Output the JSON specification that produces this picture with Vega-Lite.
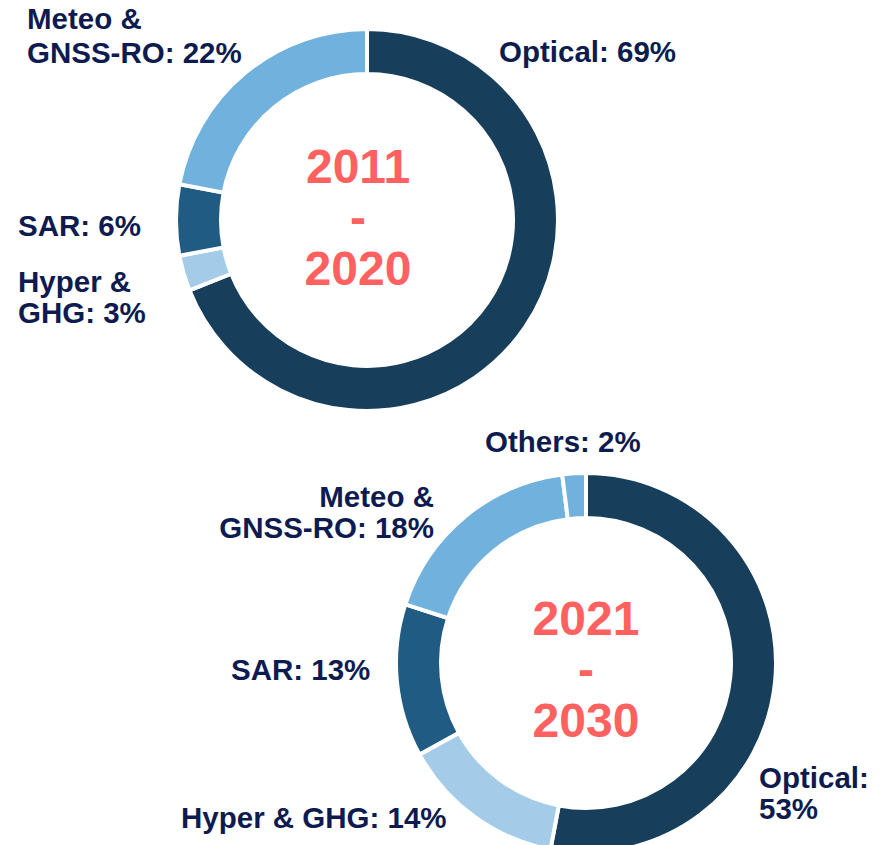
{
  "$schema": "https://vega.github.io/schema/vega-lite/v6.json",
  "width": 896,
  "height": 845,
  "padding": 0,
  "autosize": {"type": "none"},
  "background": "white",
  "config": {"view": {"stroke": null}},
  "data": {
    "values": [
      {"period": "2011 - 2020", "segment": "Optical", "share": 69, "order": 1, "label": "Optical: 69%"},
      {"period": "2011 - 2020", "segment": "Hyper & GHG", "share": 3, "order": 2, "label": "Hyper &\nGHG: 3%"},
      {"period": "2011 - 2020", "segment": "SAR", "share": 6, "order": 3, "label": "SAR: 6%"},
      {"period": "2011 - 2020", "segment": "Meteo & GNSS-RO", "share": 22, "order": 4, "label": "Meteo &\nGNSS-RO: 22%"},
      {"period": "2021 - 2030", "segment": "Optical", "share": 53, "order": 1, "label": "Optical:\n53%"},
      {"period": "2021 - 2030", "segment": "Hyper & GHG", "share": 14, "order": 2, "label": "Hyper & GHG: 14%"},
      {"period": "2021 - 2030", "segment": "SAR", "share": 13, "order": 3, "label": "SAR: 13%"},
      {"period": "2021 - 2030", "segment": "Meteo & GNSS-RO", "share": 18, "order": 4, "label": "Meteo &\nGNSS-RO: 18%"},
      {"period": "2021 - 2030", "segment": "Others", "share": 2, "order": 5, "label": "Others: 2%"}
    ]
  },
  "layer": [
    {
      "transform": [{"filter": "datum.period == '2011 - 2020'"}],
      "mark": {"type": "arc", "innerRadius": 146, "outerRadius": 191, "stroke": "white", "strokeWidth": 4},
      "encoding": {
        "x": {"datum": 367, "type": "quantitative", "scale": {"domain": [0, 896], "nice": false, "zero": false}, "axis": null},
        "y": {"datum": 220, "type": "quantitative", "scale": {"domain": [0, 845], "nice": false, "zero": false, "reverse": true}, "axis": null},
        "theta": {"field": "share", "type": "quantitative", "stack": true},
        "order": {"field": "order", "type": "quantitative"},
        "color": {"field": "segment", "type": "nominal", "legend": null,
          "scale": {"domain": ["Optical", "Hyper & GHG", "SAR", "Meteo & GNSS-RO", "Others"],
                    "range": ["#173e5a", "#a4cce8", "#1f5b83", "#70b1dd", "#70b1dd"]}}
      }
    },
    {
      "transform": [{"filter": "datum.period == '2021 - 2030'"}],
      "mark": {"type": "arc", "innerRadius": 145, "outerRadius": 190, "stroke": "white", "strokeWidth": 4},
      "encoding": {
        "x": {"datum": 586, "type": "quantitative", "scale": {"domain": [0, 896], "nice": false, "zero": false}, "axis": null},
        "y": {"datum": 663, "type": "quantitative", "scale": {"domain": [0, 845], "nice": false, "zero": false, "reverse": true}, "axis": null},
        "theta": {"field": "share", "type": "quantitative", "stack": true},
        "order": {"field": "order", "type": "quantitative"},
        "color": {"field": "segment", "type": "nominal", "legend": null}
      }
    },
    {
      "transform": [{"filter": "datum.period == '2011 - 2020' && datum.order == 1"}],
      "mark": {"type": "text", "font": "Liberation Sans", "fontWeight": "bold", "fontSize": 48, "color": "#ff6161", "align": "center", "baseline": "alphabetic", "lineBreak": " ", "lineHeight": 51},
      "encoding": {
        "x": {"datum": 358, "type": "quantitative", "scale": {"domain": [0, 896], "nice": false, "zero": false}, "axis": null},
        "y": {"datum": 183, "type": "quantitative", "scale": {"domain": [0, 845], "nice": false, "zero": false, "reverse": true}, "axis": null},
        "text": {"field": "period", "type": "nominal"}
      }
    },
    {
      "transform": [{"filter": "datum.period == '2021 - 2030' && datum.order == 1"}],
      "mark": {"type": "text", "font": "Liberation Sans", "fontWeight": "bold", "fontSize": 48, "color": "#ff6161", "align": "center", "baseline": "alphabetic", "lineBreak": " ", "lineHeight": 51},
      "encoding": {
        "x": {"datum": 586, "type": "quantitative", "scale": {"domain": [0, 896], "nice": false, "zero": false}, "axis": null},
        "y": {"datum": 635, "type": "quantitative", "scale": {"domain": [0, 845], "nice": false, "zero": false, "reverse": true}, "axis": null},
        "text": {"field": "period", "type": "nominal"}
      }
    },
    {
      "transform": [{"filter": "datum.period == '2011 - 2020' && datum.segment == 'Optical'"}],
      "mark": {"type": "text", "font": "Liberation Sans", "fontWeight": "bold", "fontSize": 29.5, "color": "#0e1b50", "align": "left", "baseline": "alphabetic", "lineBreak": "\n", "lineHeight": 34},
      "encoding": {
        "x": {"datum": 499, "type": "quantitative", "scale": {"domain": [0, 896], "nice": false, "zero": false}, "axis": null},
        "y": {"datum": 62, "type": "quantitative", "scale": {"domain": [0, 845], "nice": false, "zero": false, "reverse": true}, "axis": null},
        "text": {"field": "label", "type": "nominal"}
      }
    },
    {
      "transform": [{"filter": "datum.period == '2011 - 2020' && datum.segment == 'Meteo & GNSS-RO'"}],
      "mark": {"type": "text", "font": "Liberation Sans", "fontWeight": "bold", "fontSize": 29.5, "color": "#0e1b50", "align": "left", "baseline": "alphabetic", "lineBreak": "\n", "lineHeight": 34},
      "encoding": {
        "x": {"datum": 27, "type": "quantitative", "scale": {"domain": [0, 896], "nice": false, "zero": false}, "axis": null},
        "y": {"datum": 29, "type": "quantitative", "scale": {"domain": [0, 845], "nice": false, "zero": false, "reverse": true}, "axis": null},
        "text": {"field": "label", "type": "nominal"}
      }
    },
    {
      "transform": [{"filter": "datum.period == '2011 - 2020' && datum.segment == 'SAR'"}],
      "mark": {"type": "text", "font": "Liberation Sans", "fontWeight": "bold", "fontSize": 29.5, "color": "#0e1b50", "align": "left", "baseline": "alphabetic", "lineBreak": "\n", "lineHeight": 34},
      "encoding": {
        "x": {"datum": 18, "type": "quantitative", "scale": {"domain": [0, 896], "nice": false, "zero": false}, "axis": null},
        "y": {"datum": 236, "type": "quantitative", "scale": {"domain": [0, 845], "nice": false, "zero": false, "reverse": true}, "axis": null},
        "text": {"field": "label", "type": "nominal"}
      }
    },
    {
      "transform": [{"filter": "datum.period == '2011 - 2020' && datum.segment == 'Hyper & GHG'"}],
      "mark": {"type": "text", "font": "Liberation Sans", "fontWeight": "bold", "fontSize": 29.5, "color": "#0e1b50", "align": "left", "baseline": "alphabetic", "lineBreak": "\n", "lineHeight": 31},
      "encoding": {
        "x": {"datum": 18, "type": "quantitative", "scale": {"domain": [0, 896], "nice": false, "zero": false}, "axis": null},
        "y": {"datum": 292, "type": "quantitative", "scale": {"domain": [0, 845], "nice": false, "zero": false, "reverse": true}, "axis": null},
        "text": {"field": "label", "type": "nominal"}
      }
    },
    {
      "transform": [{"filter": "datum.period == '2021 - 2030' && datum.segment == 'Others'"}],
      "mark": {"type": "text", "font": "Liberation Sans", "fontWeight": "bold", "fontSize": 29.5, "color": "#0e1b50", "align": "left", "baseline": "alphabetic", "lineBreak": "\n", "lineHeight": 34},
      "encoding": {
        "x": {"datum": 485, "type": "quantitative", "scale": {"domain": [0, 896], "nice": false, "zero": false}, "axis": null},
        "y": {"datum": 452, "type": "quantitative", "scale": {"domain": [0, 845], "nice": false, "zero": false, "reverse": true}, "axis": null},
        "text": {"field": "label", "type": "nominal"}
      }
    },
    {
      "transform": [{"filter": "datum.period == '2021 - 2030' && datum.segment == 'Meteo & GNSS-RO'"}],
      "mark": {"type": "text", "font": "Liberation Sans", "fontWeight": "bold", "fontSize": 29.5, "color": "#0e1b50", "align": "right", "baseline": "alphabetic", "lineBreak": "\n", "lineHeight": 31},
      "encoding": {
        "x": {"datum": 434, "type": "quantitative", "scale": {"domain": [0, 896], "nice": false, "zero": false}, "axis": null},
        "y": {"datum": 507, "type": "quantitative", "scale": {"domain": [0, 845], "nice": false, "zero": false, "reverse": true}, "axis": null},
        "text": {"field": "label", "type": "nominal"}
      }
    },
    {
      "transform": [{"filter": "datum.period == '2021 - 2030' && datum.segment == 'SAR'"}],
      "mark": {"type": "text", "font": "Liberation Sans", "fontWeight": "bold", "fontSize": 29.5, "color": "#0e1b50", "align": "left", "baseline": "alphabetic", "lineBreak": "\n", "lineHeight": 34},
      "encoding": {
        "x": {"datum": 231, "type": "quantitative", "scale": {"domain": [0, 896], "nice": false, "zero": false}, "axis": null},
        "y": {"datum": 680, "type": "quantitative", "scale": {"domain": [0, 845], "nice": false, "zero": false, "reverse": true}, "axis": null},
        "text": {"field": "label", "type": "nominal"}
      }
    },
    {
      "transform": [{"filter": "datum.period == '2021 - 2030' && datum.segment == 'Hyper & GHG'"}],
      "mark": {"type": "text", "font": "Liberation Sans", "fontWeight": "bold", "fontSize": 29.5, "color": "#0e1b50", "align": "left", "baseline": "alphabetic", "lineBreak": "\n", "lineHeight": 34},
      "encoding": {
        "x": {"datum": 181, "type": "quantitative", "scale": {"domain": [0, 896], "nice": false, "zero": false}, "axis": null},
        "y": {"datum": 828, "type": "quantitative", "scale": {"domain": [0, 845], "nice": false, "zero": false, "reverse": true}, "axis": null},
        "text": {"field": "label", "type": "nominal"}
      }
    },
    {
      "transform": [{"filter": "datum.period == '2021 - 2030' && datum.segment == 'Optical'"}],
      "mark": {"type": "text", "font": "Liberation Sans", "fontWeight": "bold", "fontSize": 29.5, "color": "#0e1b50", "align": "left", "baseline": "alphabetic", "lineBreak": "\n", "lineHeight": 31},
      "encoding": {
        "x": {"datum": 759, "type": "quantitative", "scale": {"domain": [0, 896], "nice": false, "zero": false}, "axis": null},
        "y": {"datum": 788, "type": "quantitative", "scale": {"domain": [0, 845], "nice": false, "zero": false, "reverse": true}, "axis": null},
        "text": {"field": "label", "type": "nominal"}
      }
    }
  ]
}
